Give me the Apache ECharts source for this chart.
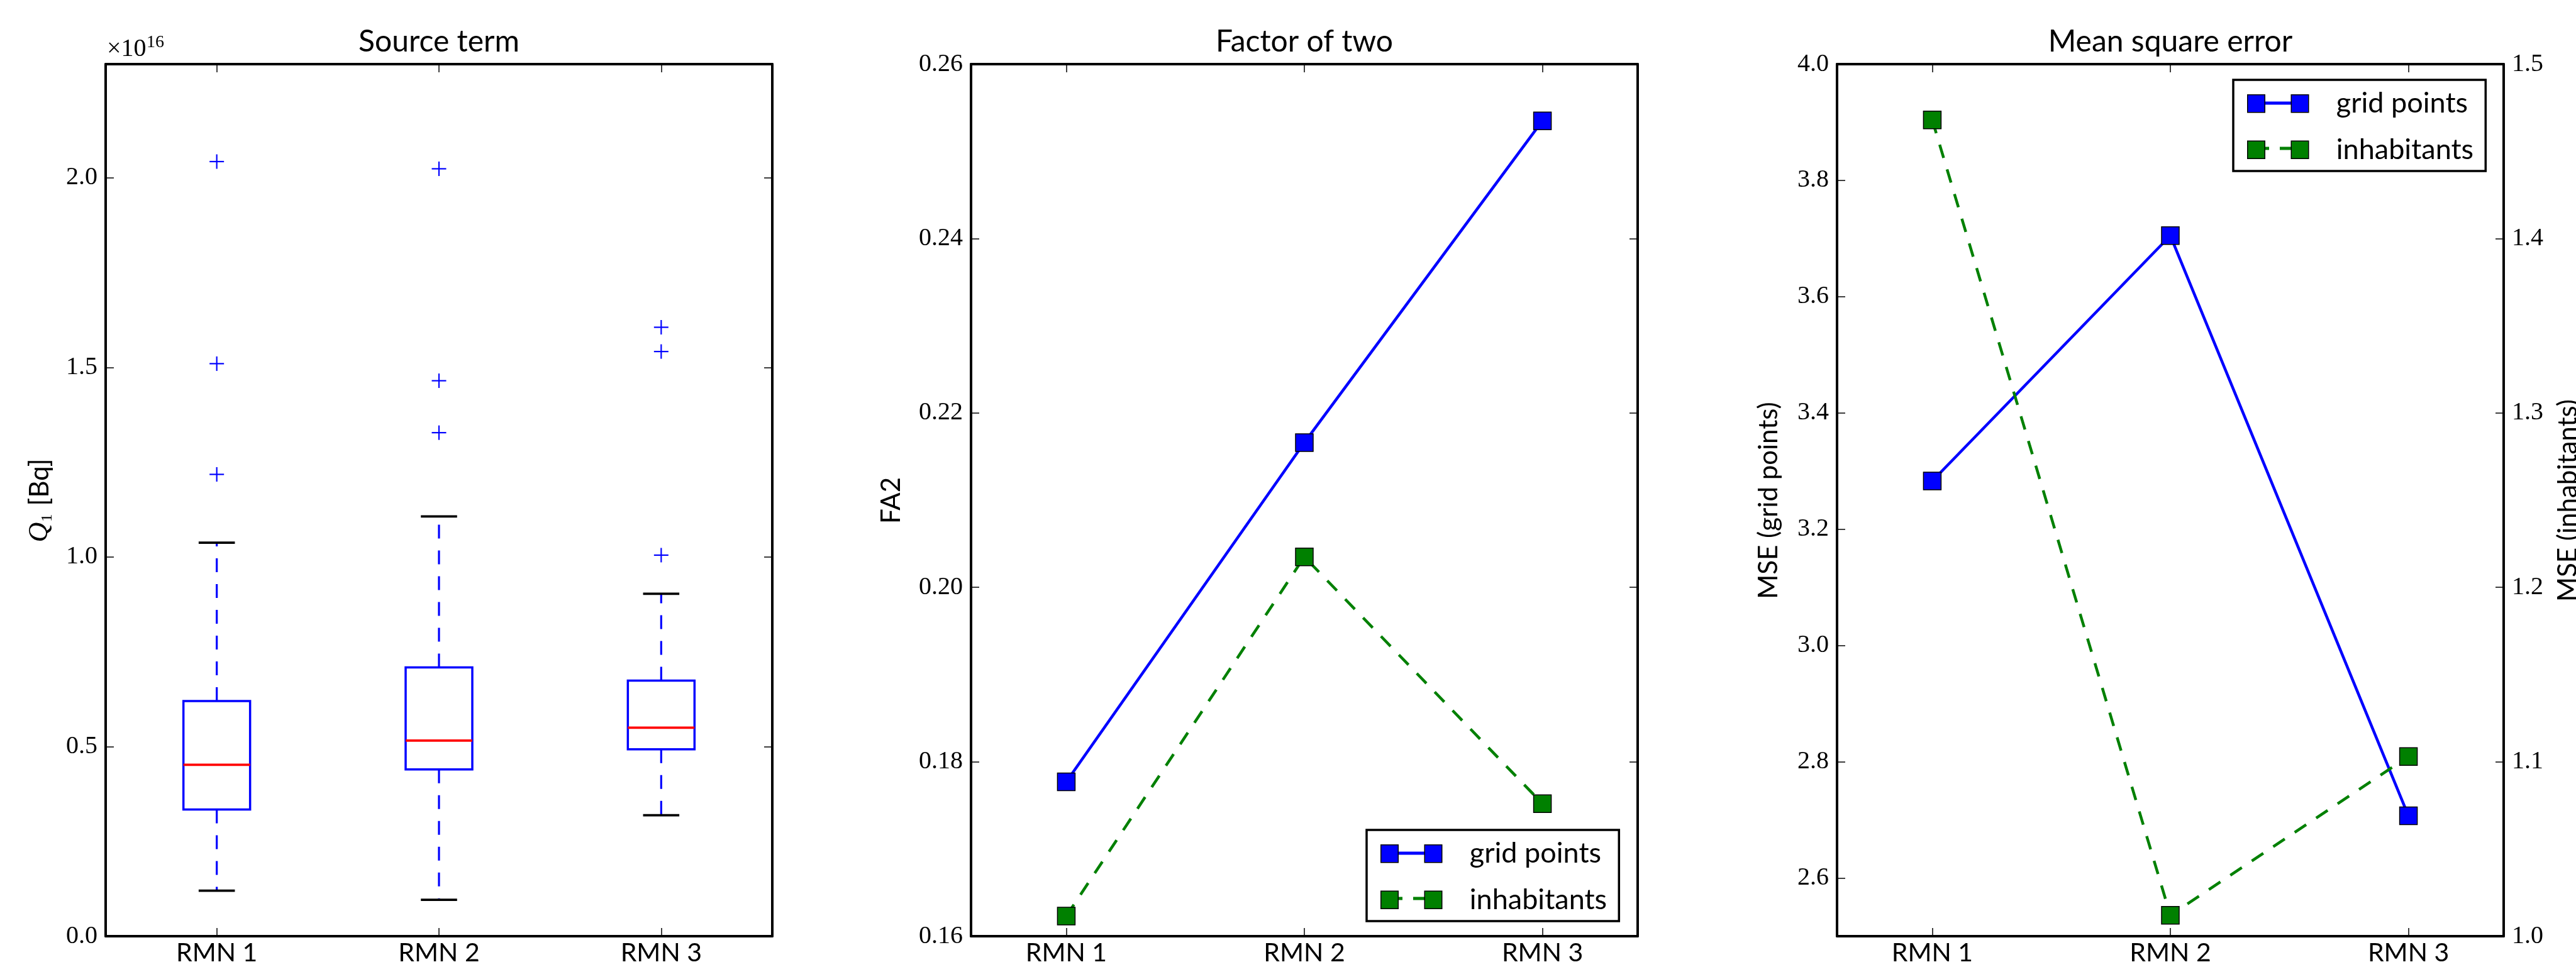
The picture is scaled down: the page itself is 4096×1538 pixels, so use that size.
<!DOCTYPE html>
<html><head><meta charset="utf-8">
<script src="https://cdn.jsdelivr.net/npm/echarts@6/dist/echarts.min.js"></script>
<style>html,body{margin:0;padding:0;background:#fff}#c{width:4096px;height:1538px}</style>
</head><body><div id="c"></div>
<script>
// ---------------- data ----------------
const categories = ['RMN 1', 'RMN 2', 'RMN 3'];
// Source term, in units of 1e16 Bq: [lower whisker, Q1, median, Q3, upper whisker]
const boxStats = [
  [0.120, 0.334, 0.452, 0.620, 1.038],
  [0.096, 0.440, 0.516, 0.709, 1.107],
  [0.319, 0.493, 0.550, 0.674, 0.903]
];
const outliers = [
  [1.218, 1.510, 2.043],
  [1.328, 1.465, 2.024],
  [1.005, 1.542, 1.606]
];
const fa2Grid = [0.1777, 0.2166, 0.2535];
const fa2Inhab = [0.1623, 0.2035, 0.1752];
const mseGrid = [3.283, 3.705, 2.707];
const mseInhab = [1.468, 1.012, 1.103];
const xPositions = [1, 2, 3];
const q1Ticks = [0.0, 0.5, 1.0, 1.5, 2.0];
const fa2Ticks = [0.16, 0.18, 0.20, 0.22, 0.24, 0.26];
const mseGridTicks = [2.6, 2.8, 3.0, 3.2, 3.4, 3.6, 3.8, 4.0];
const mseInhabTicks = [1.0, 1.1, 1.2, 1.3, 1.4, 1.5];

// ---------------- styling ----------------
const SANS = 'Lato';
const SERIF = 'Liberation Serif';
const BLUE = '#0000ff', GREEN = '#008000', RED = '#ff0000';
const grids = [
  {left: 168, top: 102, width: 1060, height: 1387},
  {left: 1544, top: 102, width: 1060, height: 1387},
  {left: 2921, top: 102, width: 1060, height: 1387}
];
const axisLine = {show: true, onZero: false, lineStyle: {color: '#000', width: 4}};
function tick(vals) {
  const t = {show: true, inside: true, length: 13, lineStyle: {color: '#000', width: 1.5}};
  if (vals) t.customValues = vals;
  return t;
}
function yLabel(vals, digits, show) {
  return {show: show, customValues: vals, margin: 13, color: '#000',
    fontFamily: SERIF, fontSize: 40, formatter: v => Number(v).toFixed(digits)};
}
const xLabelStyle = {color: '#000', fontFamily: SANS, fontSize: 41, margin: 6};

const xAxis = [
  {gridIndex: 0, type: 'category', data: categories, boundaryGap: true, position: 'bottom',
   axisLine, axisTick: Object.assign(tick(), {alignWithLabel: true}), axisLabel: xLabelStyle, splitLine: {show: false}},
  {gridIndex: 0, type: 'category', data: categories, boundaryGap: true, position: 'top',
   axisLine, axisTick: Object.assign(tick(), {alignWithLabel: true}), axisLabel: {show: false}, splitLine: {show: false}},
];
[1, 2].forEach(g => {
  xAxis.push({gridIndex: g, type: 'value', min: 0.6, max: 3.4, position: 'bottom', axisLine,
    axisTick: tick(xPositions),
    axisLabel: Object.assign({customValues: xPositions, formatter: v => categories[Math.round(v) - 1]}, xLabelStyle),
    splitLine: {show: false}});
  xAxis.push({gridIndex: g, type: 'value', min: 0.6, max: 3.4, position: 'top', axisLine,
    axisTick: tick(xPositions), axisLabel: {show: false}, splitLine: {show: false}});
});

const yAxis = [
  {gridIndex: 0, type: 'value', min: 0, max: 2.3, interval: 0.5, position: 'left', axisLine,
   axisTick: tick(q1Ticks), axisLabel: yLabel(q1Ticks, 1, true), splitLine: {show: false}},
  {gridIndex: 0, type: 'value', min: 0, max: 2.3, interval: 0.5, position: 'right', axisLine,
   axisTick: tick(q1Ticks), axisLabel: {show: false}, splitLine: {show: false}},
  {gridIndex: 1, type: 'value', min: 0.16, max: 0.26, interval: 0.02, position: 'left', axisLine,
   axisTick: tick(fa2Ticks), axisLabel: yLabel(fa2Ticks, 2, true), splitLine: {show: false}},
  {gridIndex: 1, type: 'value', min: 0.16, max: 0.26, interval: 0.02, position: 'right', axisLine,
   axisTick: tick(fa2Ticks), axisLabel: {show: false}, splitLine: {show: false}},
  {gridIndex: 2, type: 'value', min: 2.5, max: 4.0, position: 'left', axisLine,
   axisTick: tick(mseGridTicks), axisLabel: yLabel(mseGridTicks, 1, true), splitLine: {show: false}},
  {gridIndex: 2, type: 'value', min: 1.0, max: 1.5, interval: 0.1, position: 'right', axisLine,
   axisTick: tick(mseInhabTicks), axisLabel: yLabel(mseInhabTicks, 1, true), splitLine: {show: false}}
];

// ---------------- series ----------------
function boxRender(params, api) {
  const x = api.value(0);
  const lo = api.coord([x, api.value(1)]);
  const q1 = api.coord([x, api.value(2)]);
  const md = api.coord([x, api.value(3)]);
  const q3 = api.coord([x, api.value(4)]);
  const hi = api.coord([x, api.value(5)]);
  const band = api.size([1, 0])[0];
  const bw = band * 0.30, cw = band * 0.163, cx = lo[0];
  const dash = {stroke: BLUE, lineWidth: 3.2, lineDash: [22, 19], fill: null};
  return {type: 'group', children: [
    {type: 'line', shape: {x1: cx, y1: q3[1], x2: cx, y2: hi[1]}, style: dash},
    {type: 'line', shape: {x1: cx, y1: q1[1], x2: cx, y2: lo[1]}, style: dash},
    {type: 'rect', shape: {x: cx - bw / 2, y: q3[1], width: bw, height: q1[1] - q3[1]},
     style: {fill: null, stroke: BLUE, lineWidth: 3.5}},
    {type: 'line', shape: {x1: cx - bw / 2, y1: md[1], x2: cx + bw / 2, y2: md[1]},
     style: {stroke: RED, lineWidth: 3.8}},
    {type: 'line', shape: {x1: cx - cw / 2, y1: hi[1], x2: cx + cw / 2, y2: hi[1]},
     style: {stroke: '#000', lineWidth: 3.8}},
    {type: 'line', shape: {x1: cx - cw / 2, y1: lo[1], x2: cx + cw / 2, y2: lo[1]},
     style: {stroke: '#000', lineWidth: 3.8}}
  ]};
}
function plusRender(params, api) {
  const p = api.coord([api.value(0), api.value(1)]);
  const h = 11.5;
  const st = {stroke: BLUE, lineWidth: 2.2};
  return {type: 'group', children: [
    {type: 'line', shape: {x1: p[0] - h, y1: p[1], x2: p[0] + h, y2: p[1]}, style: st},
    {type: 'line', shape: {x1: p[0], y1: p[1] - h, x2: p[0], y2: p[1] + h}, style: st}
  ]};
}
const outlierData = [];
outliers.forEach((arr, i) => arr.forEach(v => outlierData.push([i, v])));

function lineSeries(name, xi, yi, vals, color, dashed, z) {
  return {
    type: 'line', name, xAxisIndex: xi, yAxisIndex: yi, z, clip: false,
    data: xPositions.map((x, i) => [x, vals[i]]),
    symbol: 'rect', symbolSize: 28,
    lineStyle: {color, width: 4.5, type: dashed ? [22, 19] : 'solid'},
    itemStyle: {color, borderColor: '#000', borderWidth: 1.5},
    emphasis: {disabled: true}
  };
}

const series = [
  {type: 'custom', xAxisIndex: 0, yAxisIndex: 0, renderItem: boxRender,
   data: boxStats.map((s, i) => [i].concat(s)), z: 3},
  {type: 'custom', xAxisIndex: 0, yAxisIndex: 0, renderItem: plusRender, data: outlierData, z: 3},
  lineSeries('grid points', 2, 2, fa2Grid, BLUE, false, 3),
  lineSeries('inhabitants', 2, 2, fa2Inhab, GREEN, true, 4),
  lineSeries('grid points', 4, 4, mseGrid, BLUE, false, 3),
  lineSeries('inhabitants', 4, 5, mseInhab, GREEN, true, 4)
];

// ---------------- legends ----------------
// icon box 136 x 48; squares 27.5 x 28 centred vertically
const barSolid = 'path://M0,0M136,48M27,21.5h43v5h-43Z';
const barDash = 'path://M0,0M136,48M27,21.5h8v5h-8ZM52,21.5h18v5h-18Z';
const squares = 'path://M0,0M136,48M0,10h27.5v28h-27.5ZM69.5,10h27.5v28h-27.5Z';
function legendPair(left, top) {
  const common = {left, top, orient: 'vertical', itemWidth: 136, itemHeight: 48, itemGap: 24,
    padding: [13, 20, 12, 22], selectedMode: false};
  return [
    Object.assign({}, common, {z: 5, backgroundColor: '#fff', borderColor: '#000', borderWidth: 3.5,
      textStyle: {color: 'rgba(0,0,0,0)', fontFamily: SANS, fontSize: 45, lineHeight: 48},
      data: [
        {name: 'grid points', icon: barSolid, itemStyle: {color: BLUE, borderWidth: 0}},
        {name: 'inhabitants', icon: barDash, itemStyle: {color: GREEN, borderWidth: 0}}
      ]}),
    Object.assign({}, common, {z: 6,
      textStyle: {color: '#000', fontFamily: SANS, fontSize: 45, lineHeight: 48},
      data: [
        {name: 'grid points', icon: squares, itemStyle: {color: BLUE, borderColor: '#000', borderWidth: 1.5}},
        {name: 'inhabitants', icon: squares, itemStyle: {color: GREEN, borderColor: '#000', borderWidth: 1.5}}
      ]})
  ];
}
const legend = legendPair(2173, 1320).concat(legendPair(3551, 127));

// ---------------- texts ----------------
function txt(text, x, y, size, family, rot, extra) {
  return {type: 'text', x, y, rotation: rot || 0, silent: true,
    style: Object.assign({text, fill: '#000', fontFamily: family, fontSize: size,
      textAlign: 'center', textVerticalAlign: 'middle'}, extra || {})};
}
const R = Math.PI / 2;
const graphic = [
  txt('Source term', 698, 67, 48, SANS),
  txt('Factor of two', 2074, 67, 48, SANS),
  txt('Mean square error', 3451, 67, 48, SANS),
  txt('\u00d710', 170, 78, 40, SERIF, 0, {textAlign: 'left'}),
  txt('16', 233, 68, 28, SERIF, 0, {textAlign: 'left'}),
  {type: 'text', x: 63, y: 796, rotation: R, silent: true,
   style: {text: '{q|Q}{s|\u2081} {t|[Bq]}', textAlign: 'center', textVerticalAlign: 'middle',
     fill: '#000', fontSize: 42,
     rich: {q: {fontFamily: SERIF, fontStyle: 'italic', fontSize: 44, fill: '#000'},
            s: {fontFamily: SERIF, fontSize: 42, fill: '#000'},
            t: {fontFamily: SANS, fontSize: 42, fill: '#000'}}}},
  txt('FA2', 1417, 796, 42, SANS, R),
  txt('MSE (grid points)', 2812, 796, 42, SANS, R),
  txt('MSE (inhabitants)', 4083, 796, 42, SANS, R)
];

const chart = echarts.init(document.getElementById('c'), null, {renderer: 'canvas'});
chart.setOption({
  animation: false,
  backgroundColor: '#fff',
  grid: grids,
  xAxis, yAxis, series, legend, graphic
});
</script></body></html>
